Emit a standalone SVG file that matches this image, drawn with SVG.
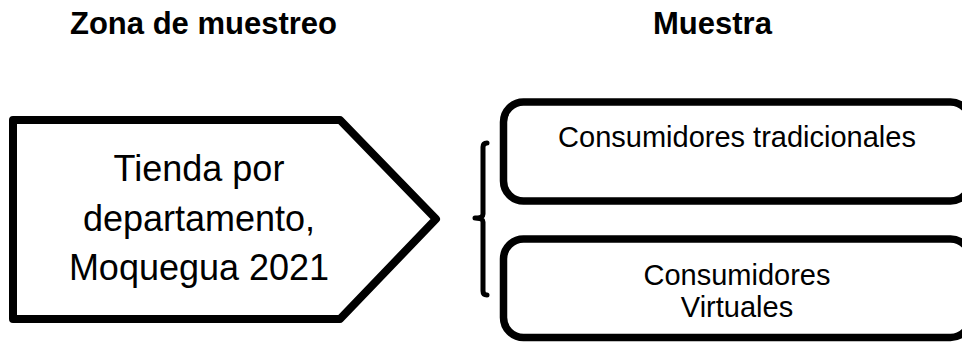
<svg xmlns="http://www.w3.org/2000/svg" width="962" height="344" viewBox="0 0 962 344">
<style>
.hdr{font-family:"Liberation Sans",Arial,sans-serif;font-weight:bold;font-size:31px;fill:#000}
.big{font-family:"Liberation Sans",Arial,sans-serif;font-size:36px;fill:#000;text-anchor:middle}
.lbl{font-family:"Liberation Sans",Arial,sans-serif;font-size:29px;fill:#000;text-anchor:middle}
.shape{fill:#fff;stroke:#000;stroke-width:8;stroke-linejoin:round}
.box{fill:#fff;stroke:#000;stroke-width:7.5}
</style>
<rect width="962" height="344" fill="#fff"/>
<g id="headers">
<text class="hdr" x="70" y="34">Zona de muestreo</text>
<text class="hdr" x="653" y="34">Muestra</text>
</g>
<g id="zona">
<polygon class="shape" points="13,120 340,120 436,219 340,319 13,319"/>
<text class="big" x="199" y="181">Tienda por</text>
<text class="big" x="199" y="230.5">departamento,</text>
<text class="big" x="199" y="280">Moquegua 2021</text>
</g>
<g id="connectors">
<path d="M487,143 Q483,143 483,147 L483,214 Q483,218 475,218 Q483,218 483,222 L483,291 Q483,295 487,295" fill="none" stroke="#000" stroke-width="5" stroke-linecap="round" stroke-linejoin="round"/>
</g>
<g id="tradicionales">
<rect class="box" x="503.5" y="102" width="467" height="99" rx="20"/>
<text class="lbl" x="737" y="147">Consumidores tradicionales</text>
</g>
<g id="virtuales">
<rect class="box" x="503.5" y="239" width="467" height="98.5" rx="20"/>
<text class="lbl" x="737" y="285">Consumidores</text>
<text class="lbl" x="737" y="317">Virtuales</text>
</g>
</svg>
